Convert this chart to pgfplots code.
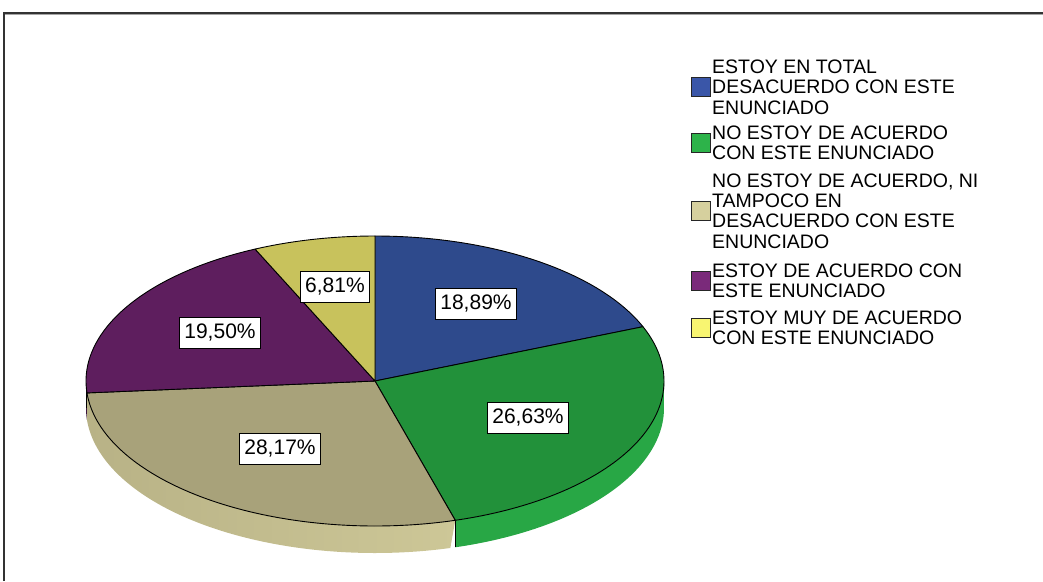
\documentclass[border=0pt]{standalone}
\usepackage{fontspec}
\setmainfont{Liberation Sans}
\usepackage{pgfplots}
\usepackage{pgfplotstable}
\pgfplotsset{compat=1.18}

\definecolor{topblue}{HTML}{2E4A8C}
\definecolor{topgreen}{HTML}{22913A}
\definecolor{toptan}{HTML}{A8A27A}
\definecolor{toppurple}{HTML}{5E1E5E}
\definecolor{topyellow}{HTML}{C8C25C}
\definecolor{rimgreen}{HTML}{28A745}
\definecolor{rimtanL}{HTML}{B8B286}
\definecolor{rimtanR}{HTML}{CDC797}
\definecolor{rimpurple}{HTML}{3A143A}
\definecolor{legblue}{HTML}{3A56A8}
\definecolor{leggreen}{HTML}{2DB34A}
\definecolor{legtan}{HTML}{D6D09E}
\definecolor{legpurple}{HTML}{7A2A7A}
\definecolor{legyellow}{HTML}{F8F571}

% percentages of the five answers (clockwise from 12 o'clock)
\pgfplotstableread{
pct
18.89
26.63
28.17
19.50
6.81
}\piedata
\pgfplotstablegetelem{0}{pct}\of\piedata \let\pA\pgfplotsretval
\pgfplotstablegetelem{1}{pct}\of\piedata \let\pB\pgfplotsretval
\pgfplotstablegetelem{2}{pct}\of\piedata \let\pC\pgfplotsretval
\pgfplotstablegetelem{3}{pct}\of\piedata \let\pD\pgfplotsretval
\pgfplotstablegetelem{4}{pct}\of\piedata \let\pE\pgfplotsretval
\pgfmathsetmacro\aA{90}
\pgfmathsetmacro\aB{\aA-3.6*\pA}
\pgfmathsetmacro\aC{\aB-3.6*\pB}
\pgfmathsetmacro\aD{\aC-3.6*\pC}
\pgfmathsetmacro\aE{\aD-3.6*\pD}
\pgfmathsetmacro\aF{\aE-3.6*\pE}

\def\cx{375}\def\cy{381}\def\rx{289}\def\ry{145}\def\dep{27}

\newcommand\topslice[3]{%
  \addplot[forget plot, fill=#3, draw=black, line width=0.9pt, line join=round,
    domain=#1:#2, samples=100, variable=\t]
    ({\cx+\rx*cos(\t)},{\cy-\ry*sin(\t)}) -- (axis cs:\cx,\cy) -- cycle;}
\newcommand\rimpart[3]{%
  \addplot[forget plot, draw=none, #3, domain=0:2, samples=201, variable=\s]
    ({\cx+\rx*cos((#1)+((#2)-(#1))*min(\s,2-\s))},
     {\cy-\ry*sin((#1)+((#2)-(#1))*min(\s,2-\s))+\dep*(\s>1)});}

\tikzset{lbl/.style={draw=black, fill=white, line width=1pt, inner xsep=4.5pt,
  inner ysep=7pt, font=\fontsize{21}{24}\selectfont, text=black}}
\newcommand\legitem[3]{%
  \node[draw=black!85, fill=#1, line width=1pt, minimum width=19pt, minimum height=19pt,
    inner sep=0pt, anchor=west] at (axis cs:691,#2) {};
  \node[anchor=west, inner sep=0pt, align=left,
    font=\fontsize{19.5}{20.3}\selectfont] at (axis cs:712,#2) {#3};}

\begin{document}
\begin{tikzpicture}
\begin{axis}[
  width=1043pt, height=581pt, scale only axis,
  xmin=0, xmax=1043, ymin=0, ymax=581, y dir=reverse,
  hide axis, clip=true,
]
\coordinate (bl) at (rel axis cs:0,0);
\coordinate (tr) at (rel axis cs:1,1);
% frame
\draw[line width=1.2pt, black!80] (axis cs:4,581) -- (axis cs:4,13) -- (axis cs:1043,13);
\draw[line width=1pt, black!35] (axis cs:5.2,14.3) -- (axis cs:1043,14.3);
% rims (side of the pie)
\rimpart{\aC}{0}{fill=rimgreen}
\rimpart{\aD}{\aC}{left color=rimtanL, right color=rimtanR}
\rimpart{-180}{\aD}{fill=rimpurple}
\addplot[forget plot, black, line width=1pt, domain=0:1, samples=2]
  ({\cx+\rx*cos(\aC)},{\cy-\ry*sin(\aC)+\dep*x});
\addplot[forget plot, black, line width=1pt, domain=0:1, samples=2]
  ({\cx-\rx},{\cy+\dep*x});
% top faces
\topslice{\aB}{\aA}{topblue}
\topslice{\aC}{\aB}{topgreen}
\topslice{\aD}{\aC}{toptan}
\topslice{\aE}{\aD}{toppurple}
\topslice{\aF}{\aE}{topyellow}
% value labels
\addplot[forget plot, draw=none, mark=none, nodes near coords,
  point meta=explicit symbolic, nodes near coords align=center,
  every node near coord/.append style={lbl}]
  table[meta=lab] {
x y lab
476 304 18,89\%
528 418 26,63\%
280 449 28,17\%
220 333 19,50\%
335 287 6,81\%
};
% legend
\legitem{legblue}{87}{ESTOY EN TOTAL\\DESACUERDO CON ESTE\\ENUNCIADO}
\legitem{leggreen}{143}{NO ESTOY DE ACUERDO\\CON ESTE ENUNCIADO}
\legitem{legtan}{211}{NO ESTOY DE ACUERDO, NI\\TAMPOCO EN\\DESACUERDO CON ESTE\\ENUNCIADO}
\legitem{legpurple}{280.5}{ESTOY DE ACUERDO CON\\ESTE ENUNCIADO}
\legitem{legyellow}{328}{ESTOY MUY DE ACUERDO\\CON ESTE ENUNCIADO}
\end{axis}
\pgfresetboundingbox
\path (bl) rectangle (tr);
\end{tikzpicture}
\end{document}
